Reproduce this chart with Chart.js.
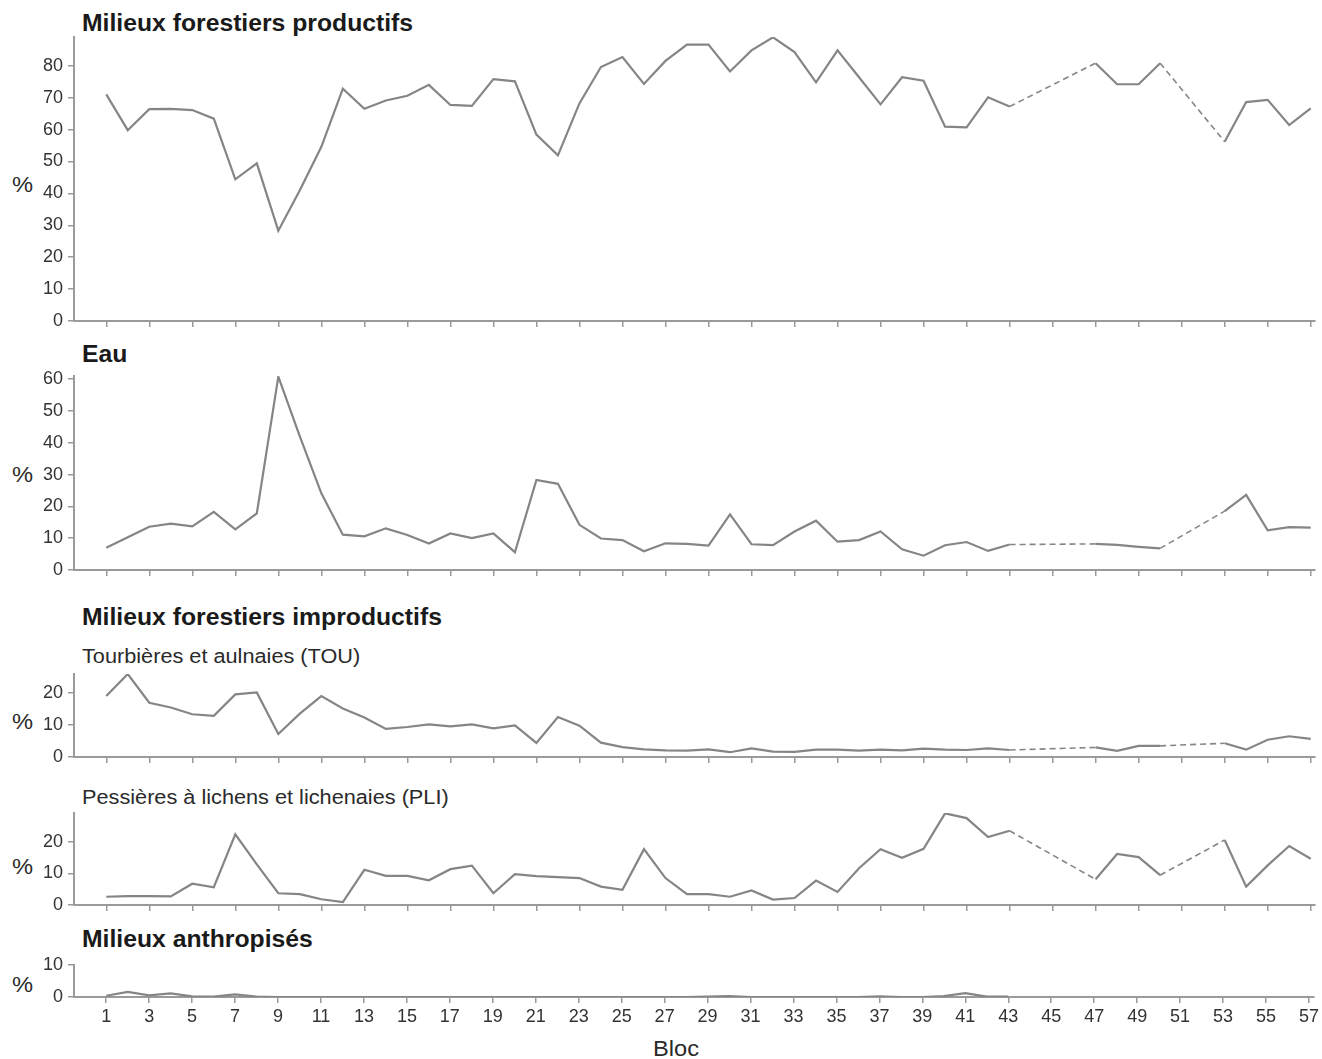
<!DOCTYPE html>
<html lang="fr">
<head>
<meta charset="utf-8">
<script src="https://cdn.jsdelivr.net/npm/chart.js@4.4.1/dist/chart.umd.min.js"></script>
<style>
  html, body { margin: 0; padding: 0; background: #fff; }
  #fig { position: relative; width: 1322px; height: 1059px; overflow: hidden; font-family: "Liberation Sans", Arial, sans-serif; }
  #fig canvas { position: absolute; left: 0; }
  .txt { position: absolute; white-space: nowrap; line-height: 1; transform-origin: left top; transform: scaleX(1.075); }
  .ttl { font-size: 23px; font-weight: bold; color: #1a1a1a; left: 82px; }
  .sub { font-size: 20px; color: #2a2a2a; left: 82px; transform: scaleX(1.085); }
  .pct { font-size: 22px; color: #2a2a2a; left: 12px; }
</style>
</head>
<body>
<div id="fig">
  <div class="txt ttl" style="top:12px">Milieux forestiers productifs</div>
  <div class="txt ttl" style="top:343px">Eau</div>
  <div class="txt ttl" style="top:606px">Milieux forestiers improductifs</div>
  <div class="txt sub" style="top:646px">Tourbières et aulnaies (TOU)</div>
  <div class="txt sub" style="top:787px">Pessières à lichens et lichenaies (PLI)</div>
  <div class="txt ttl" style="top:928px">Milieux anthropisés</div>
  <div class="txt pct" style="top:174px">%</div>
  <div class="txt pct" style="top:464px">%</div>
  <div class="txt pct" style="top:711px">%</div>
  <div class="txt pct" style="top:856px">%</div>
  <div class="txt pct" style="top:974px">%</div>
  <div class="txt pct" style="top:1038px; left:653px; font-size:22px;">Bloc</div>

  <canvas id="cProd" width="1322" height="317" style="top:21px"></canvas>
  <canvas id="cEau" width="1322" height="227" style="top:360px"></canvas>
  <canvas id="cTou" width="1322" height="116" style="top:658px"></canvas>
  <canvas id="cPli" width="1322" height="125" style="top:797px"></canvas>
  <canvas id="cAnth" width="1322" height="88" style="top:949px"></canvas>
</div>
<script>
// Blocs 1 a 57 (axe des x commun)
const blocs = [1, 2, 3, 4, 5, 6, 7, 8, 9, 10, 11, 12, 13, 14, 15, 16, 17, 18, 19, 20,
  21, 22, 23, 24, 25, 26, 27, 28, 29, 30, 31, 32, 33, 34, 35, 36, 37, 38, 39, 40,
  41, 42, 43, 44, 45, 46, 47, 48, 49, 50, 51, 52, 53, 54, 55, 56, 57];
const blocTicks = [1, 3, 5, 7, 9, 11, 13, 15, 17, 19, 21, 23, 25, 27, 29, 31, 33, 35, 37, 39,
  41, 43, 45, 47, 49, 51, 53, 55, 57];

// % par bloc (null = bloc sans donnee, relie en pointille)
const prodValues = [71, 59.8, 66.4, 66.5, 66.1, 63.4, 44.4, 49.4, 28.3, 41, 54.6, 72.8, 66.5, 69.1, 70.6, 74, 67.7, 67.4, 75.8, 75.1,
  58.4, 51.9, 68.2, 79.6, 82.7, 74.3, 81.5, 86.6, 86.6, 78.2, 84.8, 88.9, 84.3, 74.8, 84.8, 76.4, 67.9, 76.4, 75.3, 60.9,
  60.7, 70.1, 67.2, null, null, null, 80.8, 74.2, 74.2, 80.8, null, null, 56.2, 68.6, 69.3, 61.4, 66.6];
const eauValues = [7.0, 10.3, 13.6, 14.6, 13.7, 18.3, 12.8, 17.8, 60.8, 42, 24.1, 11.1, 10.6, 13.1, 11.0, 8.3, 11.5, 10.0, 11.5, 5.6,
  28.3, 27.1, 14.2, 9.9, 9.4, 5.9, 8.4, 8.2, 7.7, 17.5, 8.1, 7.8, 12.1, 15.5, 8.9, 9.4, 12.1, 6.5, 4.5, 7.8,
  8.8, 6.0, 8.0, null, null, null, 8.2, 7.9, 7.3, 6.8, null, null, 18.5, 23.6, 12.5, 13.5, 13.3];
const touValues = [19.1, 26.0, 17.0, 15.5, 13.4, 12.9, 19.6, 20.2, 7.2, 13.6, 19.1, 15.2, 12.4, 8.8, 9.4, 10.2, 9.6, 10.2, 9.0, 9.9,
  4.4, 12.5, 9.8, 4.5, 3.1, 2.4, 2.1, 2.0, 2.4, 1.5, 2.7, 1.7, 1.6, 2.3, 2.3, 2.0, 2.3, 2.1, 2.6, 2.3,
  2.2, 2.7, 2.2, null, null, null, 3.0, 1.9, 3.5, 3.5, null, null, 4.3, 2.3, 5.4, 6.5, 5.7];
const pliValues = [2.6, 2.8, 2.8, 2.7, 6.7, 5.6, 22.3, 12.8, 3.7, 3.4, 1.8, 0.9, 11.1, 9.2, 9.2, 7.8, 11.3, 12.4, 3.7, 9.7,
  9.1, 8.8, 8.5, 5.8, 4.8, 17.6, 8.5, 3.4, 3.4, 2.6, 4.6, 1.7, 2.2, 7.7, 4.1, 11.6, 17.6, 14.9, 17.7, 28.9,
  27.4, 21.4, 23.4, null, null, null, 8.1, 16.1, 15.1, 9.4, null, null, 20.5, 5.8, 12.5, 18.6, 14.6];
const anthValues = [0.4, 1.6, 0.5, 1.1, 0.2, 0.1, 0.8, 0.1, 0, 0, 0, 0, 0, 0, 0, 0, 0, 0, 0, 0,
  0, 0, 0, 0, 0, 0, 0, 0, 0.1, 0.3, 0, 0, 0, 0, 0, 0, 0.2, 0, 0, 0.3,
  1.2, 0.1, 0.1, null, null, null, null, null, null, null, null, null, null, null, null, null, null];

const lineGray = "#858585";
const axisGray = "#9a9a9a";
const tickFont = { family: "'Liberation Sans', Arial, sans-serif", size: 18 };

// pointille entre les blocs manquants
const gapDash = (ctx) => (ctx.p0.skip || ctx.p1.skip ? [6, 4] : undefined);
const gapWidth = (ctx) => (ctx.p0.skip || ctx.p1.skip ? 1.6 : undefined);

function makePanel(canvasId, values, yMax, xHeight, showLabels) {
  const ctx = document.getElementById(canvasId);
  return new Chart(ctx, {
    type: "line",
    data: {
      datasets: [
        {
          data: blocs.map((b, i) => ({ x: b, y: values[i] })),
          borderColor: lineGray,
          borderWidth: 2.2,
          pointRadius: 0,
          tension: 0,
          spanGaps: true,
          fill: false,
          segment: { borderDash: gapDash, borderWidth: gapWidth },
        },
      ],
    },
    options: {
      responsive: false,
      animation: false,
      events: [],
      layout: { padding: { top: 16, right: 7, bottom: 0, left: 0 } },
      plugins: { legend: { display: false }, tooltip: { enabled: false }, title: { display: false } },
      scales: {
        x: {
          type: "linear",
          min: -0.5,
          max: 57.2,
          border: { display: true, color: axisGray, width: 2 },
          grid: { display: true, drawOnChartArea: false, drawTicks: true, tickLength: 6, color: axisGray, lineWidth: 1.5 },
          ticks: { display: showLabels, color: "#333", font: tickFont, padding: 3, maxRotation: 0, autoSkip: false },
          afterBuildTicks: (scale) => {
            scale.ticks = blocTicks.map((v) => ({ value: v }));
          },
          afterFit: (scale) => {
            scale.height = xHeight;
          },
        },
        y: {
          min: 0,
          max: yMax,
          border: { display: true, color: axisGray, width: 2 },
          grid: { display: true, drawOnChartArea: false, drawTicks: true, tickLength: 6, color: axisGray, lineWidth: 1.5 },
          ticks: { color: "#333", font: tickFont, padding: 5, stepSize: 10, includeBounds: false },
          afterBuildTicks: (scale) => {
            scale.ticks = scale.ticks.filter((t) => t.value % 10 === 0 && t.value <= yMax);
          },
          afterFit: (scale) => {
            scale.width = 74;
          },
        },
      },
    },
  });
}

makePanel("cProd", prodValues, 89, 17, false);
makePanel("cEau", eauValues, 61, 17, false);
makePanel("cTou", touValues, 26, 17, false);
makePanel("cPli", pliValues, 29, 17, false);
makePanel("cAnth", anthValues, 10, 40, true);
</script>
</body>
</html>
